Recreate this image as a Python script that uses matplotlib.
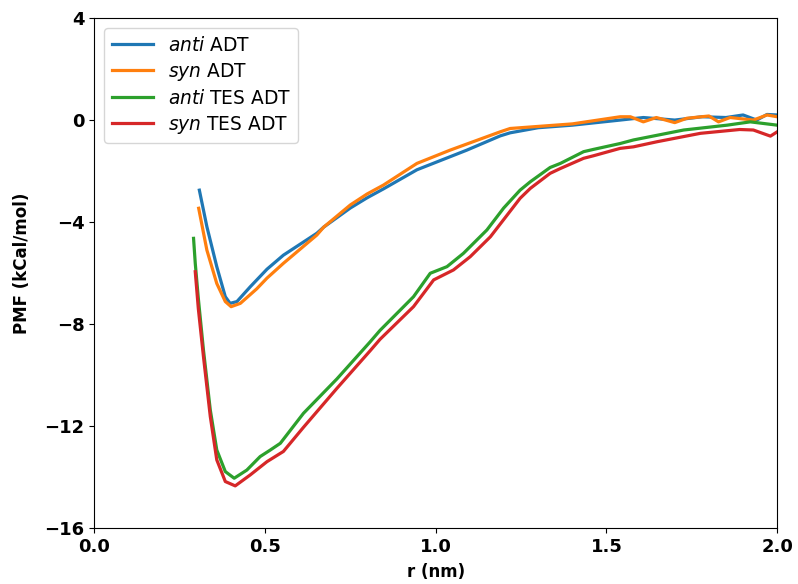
import matplotlib
matplotlib.use("Agg")
import matplotlib.pyplot as plt

# PMF profiles along the separation coordinate r (nm), kCal/mol
r_anti_adt = [0.308, 0.330, 0.359, 0.384, 0.398, 0.418, 0.457, 0.506, 0.554, 0.652, 0.672, 0.750,
              0.799, 0.847, 0.945, 1.091, 1.189, 1.218, 1.300, 1.400, 1.540, 1.608, 1.700, 1.780,
              1.850, 1.900, 1.940, 1.970, 2.000]
pmf_anti_adt = [-2.75, -4.18, -5.75, -6.93, -7.19, -7.12, -6.54, -5.85, -5.30, -4.44, -4.20, -3.45,
                -3.05, -2.70, -1.95, -1.18, -0.62, -0.50, -0.30, -0.20, 0.00, 0.10, 0.00, 0.13,
                0.10, 0.20, 0.00, 0.22, 0.20]

r_syn_adt = [0.306, 0.330, 0.359, 0.384, 0.401, 0.428, 0.476, 0.506, 0.554, 0.652, 0.672, 0.750,
             0.799, 0.847, 0.945, 1.042, 1.189, 1.218, 1.400, 1.540, 1.570, 1.608, 1.646, 1.700,
             1.735, 1.800, 1.828, 1.862, 1.930, 1.970, 2.000]
pmf_syn_adt = [-3.46, -5.10, -6.41, -7.12, -7.32, -7.19, -6.62, -6.20, -5.62, -4.51, -4.20, -3.33,
               -2.90, -2.55, -1.70, -1.18, -0.46, -0.33, -0.15, 0.13, 0.13, -0.07, 0.10, -0.10,
               0.07, 0.16, -0.07, 0.10, 0.00, 0.20, 0.13]

r_anti_tes = [0.291, 0.296, 0.305, 0.320, 0.340, 0.359, 0.384, 0.410, 0.447, 0.486, 0.515, 0.545,
              0.613, 0.711, 0.808, 0.837, 0.935, 0.984, 1.033, 1.081, 1.150, 1.199, 1.247, 1.277,
              1.335, 1.365, 1.433, 1.462, 1.540, 1.579, 1.726, 1.853, 1.921, 2.000]
pmf_anti_tes = [-4.64, -5.62, -7.00, -9.02, -11.37, -12.94, -13.79, -14.05, -13.73, -13.20, -12.95, -12.68,
                -11.50, -10.15, -8.70, -8.25, -6.93, -6.01, -5.75, -5.23, -4.31, -3.45, -2.75, -2.42,
                -1.86, -1.70, -1.24, -1.15, -0.92, -0.78, -0.39, -0.20, -0.07, -0.20]

r_syn_tes = [0.296, 0.305, 0.320, 0.340, 0.359, 0.384, 0.413, 0.457, 0.506, 0.554, 0.613, 0.711,
             0.808, 0.837, 0.935, 0.994, 1.052, 1.101, 1.160, 1.247, 1.277, 1.335, 1.365, 1.433,
             1.462, 1.540, 1.579, 1.648, 1.775, 1.890, 1.930, 1.980, 2.000]
pmf_syn_tes = [-5.95, -7.40, -9.28, -11.63, -13.33, -14.18, -14.35, -13.92, -13.40, -13.00, -12.05, -10.52,
               -9.05, -8.60, -7.32, -6.27, -5.88, -5.36, -4.58, -3.07, -2.68, -2.09, -1.90, -1.50,
               -1.40, -1.11, -1.05, -0.85, -0.52, -0.37, -0.39, -0.63, -0.46]

series = [
    (r_anti_adt, pmf_anti_adt, r"$\it{anti}$ ADT", "#1f77b4"),
    (r_syn_adt, pmf_syn_adt, r"$\it{syn}$ ADT", "#ff7f0e"),
    (r_anti_tes, pmf_anti_tes, r"$\it{anti}$ TES ADT", "#2ca02c"),
    (r_syn_tes, pmf_syn_tes, r"$\it{syn}$ TES ADT", "#d62728"),
]

x_ticks = [0.0, 0.5, 1.0, 1.5, 2.0]
y_ticks = [-16, -12, -8, -4, 0, 4]

fig = plt.figure(figsize=(7.98, 5.84), dpi=100)
ax = fig.add_axes([0.118, 0.096, 0.856, 0.873])

for r, pmf, label, color in series:
    ax.plot(r, pmf, color=color, lw=2.3, label=label)

ax.set_xlim(0.0, 2.0)
ax.set_ylim(-16, 4)
ax.set_xticks(x_ticks)
ax.set_yticks(y_ticks)
ax.set_xticklabels([f"{t:.1f}" for t in x_ticks], fontweight="bold", fontsize=13)
ax.set_yticklabels([f"{t:d}".replace("-", "\u2212") for t in y_ticks], fontweight="bold", fontsize=13)
ax.set_xlabel("r (nm)", fontweight="bold", fontsize=12, labelpad=5)
ax.set_ylabel("PMF (kCal/mol)", fontweight="bold", fontsize=12)
ax.yaxis.set_label_coords(-0.092, 0.52)
ax.legend(loc="upper left", fontsize=13.4, handlelength=2.2, labelspacing=0.32,
          borderaxespad=0.55)

fig.savefig("out.png", dpi=100)
